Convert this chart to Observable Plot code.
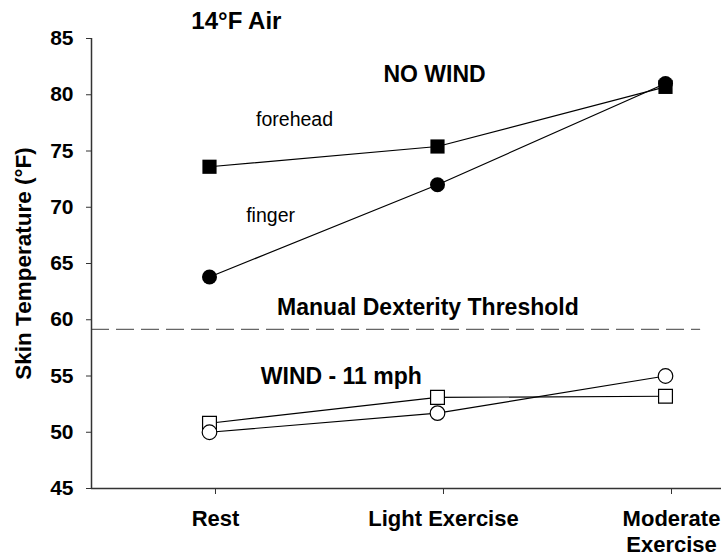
<!DOCTYPE html>
<html><head><meta charset="utf-8">
<script src="https://cdn.jsdelivr.net/npm/d3@7"></script>
<script src="https://cdn.jsdelivr.net/npm/@observablehq/plot@0.6"></script>
<style>body{margin:0;background:#fff}</style>
</head><body><div id="chart"></div>
<script>
// ---- data ----
const conditions = ["Rest", "Light Exercise", "Moderate Exercise"];
const tickLabels = ["Rest", "Light Exercise", "Moderate\nExercise"];
const yTicks = [45, 50, 55, 60, 65, 70, 75, 80, 85];
const noWindForehead = [73.6, 75.4, 80.7];
const noWindFinger = [63.8, 72.0, 81.0];
const windForehead = [50.8, 53.1, 53.2];
const windFinger = [50.0, 51.7, 55.0];
const dexterityThreshold = 59.15;

// ---- build ----
const rows = (vals) => vals.map((v, i) => ({i, v}));
const FONT = "'Liberation Sans', Arial, Helvetica, sans-serif";
const xMin = -0.5175, xMax = 2.2456;

const lineOpts = {x: "i", y: "v", stroke: "#000", strokeWidth: 1.2};
const chart = Plot.plot({
  width: 721, height: 556,
  marginLeft: 91, marginRight: 0, marginTop: 38, marginBottom: 68,
  style: {fontFamily: FONT, color: "#000", background: "#fff"},
  x: {type: "linear", domain: [xMin, xMax]},
  y: {domain: [45, 85]},
  marks: [
    Plot.ruleY([dexterityThreshold], {x1: xMin, x2: 2.154, stroke: "#666", strokeWidth: 1.2, strokeDasharray: "18,7"}),
    Plot.ruleY([45], {stroke: "#333", strokeWidth: 1.5}),
    Plot.ruleX([xMin], {y1: 45, y2: 85, stroke: "#333", strokeWidth: 1.5}),
    Plot.line(rows(noWindForehead), lineOpts),
    Plot.line(rows(noWindFinger), lineOpts),
    Plot.line(rows(windForehead), lineOpts),
    Plot.line(rows(windFinger), lineOpts),
    Plot.dot(rows(noWindForehead), {x: "i", y: "v", symbol: "square", r: 8, fill: "#000"}),
    Plot.dot(rows(noWindFinger), {x: "i", y: "v", symbol: "circle", r: 7.5, fill: "#000"}),
    Plot.dot(rows(windForehead), {x: "i", y: "v", symbol: "square", r: 7.8, fill: "#fff", stroke: "#000", strokeWidth: 1.2}),
    Plot.dot(rows(windFinger), {x: "i", y: "v", symbol: "circle", r: 7.3, fill: "#fff", stroke: "#000", strokeWidth: 1.2}),
    Plot.axisY({ticks: yTicks, tickSize: 5, tickPadding: 13, fontSize: 21, fontWeight: "bold", label: null, stroke: "#333"}),
    Plot.axisX({ticks: [0, 1, 2], tickFormat: (i) => tickLabels[i], tickSize: 6, tickPadding: 14, fontSize: 22, fontWeight: "bold", lineHeight: 1.15, dx: 6, label: null, stroke: "#333"}),
    Plot.text(["Skin Temperature (°F)"], {frameAnchor: "left", rotate: -90, dx: -68, fontSize: 22.5, fontWeight: "bold", textAnchor: "middle"}),
    Plot.text(["14°F Air"], {x: 0.118, y: 85.86, fontSize: 24, fontWeight: "bold", lineAnchor: "bottom"}),
    Plot.text(["NO WIND"], {x: 0.987, y: 81.16, fontSize: 23, fontWeight: "bold", lineAnchor: "bottom"}),
    Plot.text(["forehead"], {x: 0.373, y: 77.21, fontSize: 19.5, lineAnchor: "bottom"}),
    Plot.text(["finger"], {x: 0.268, y: 68.67, fontSize: 19.5, lineAnchor: "bottom"}),
    Plot.text(["Manual Dexterity Threshold"], {x: 0.958, y: 60.39, fontSize: 23, fontWeight: "bold", lineAnchor: "bottom"}),
    Plot.text(["WIND - 11 mph"], {x: 0.578, y: 54.33, fontSize: 23, fontWeight: "bold", lineAnchor: "bottom"})
  ]
});
document.getElementById("chart").appendChild(chart);
</script>
</body></html>
